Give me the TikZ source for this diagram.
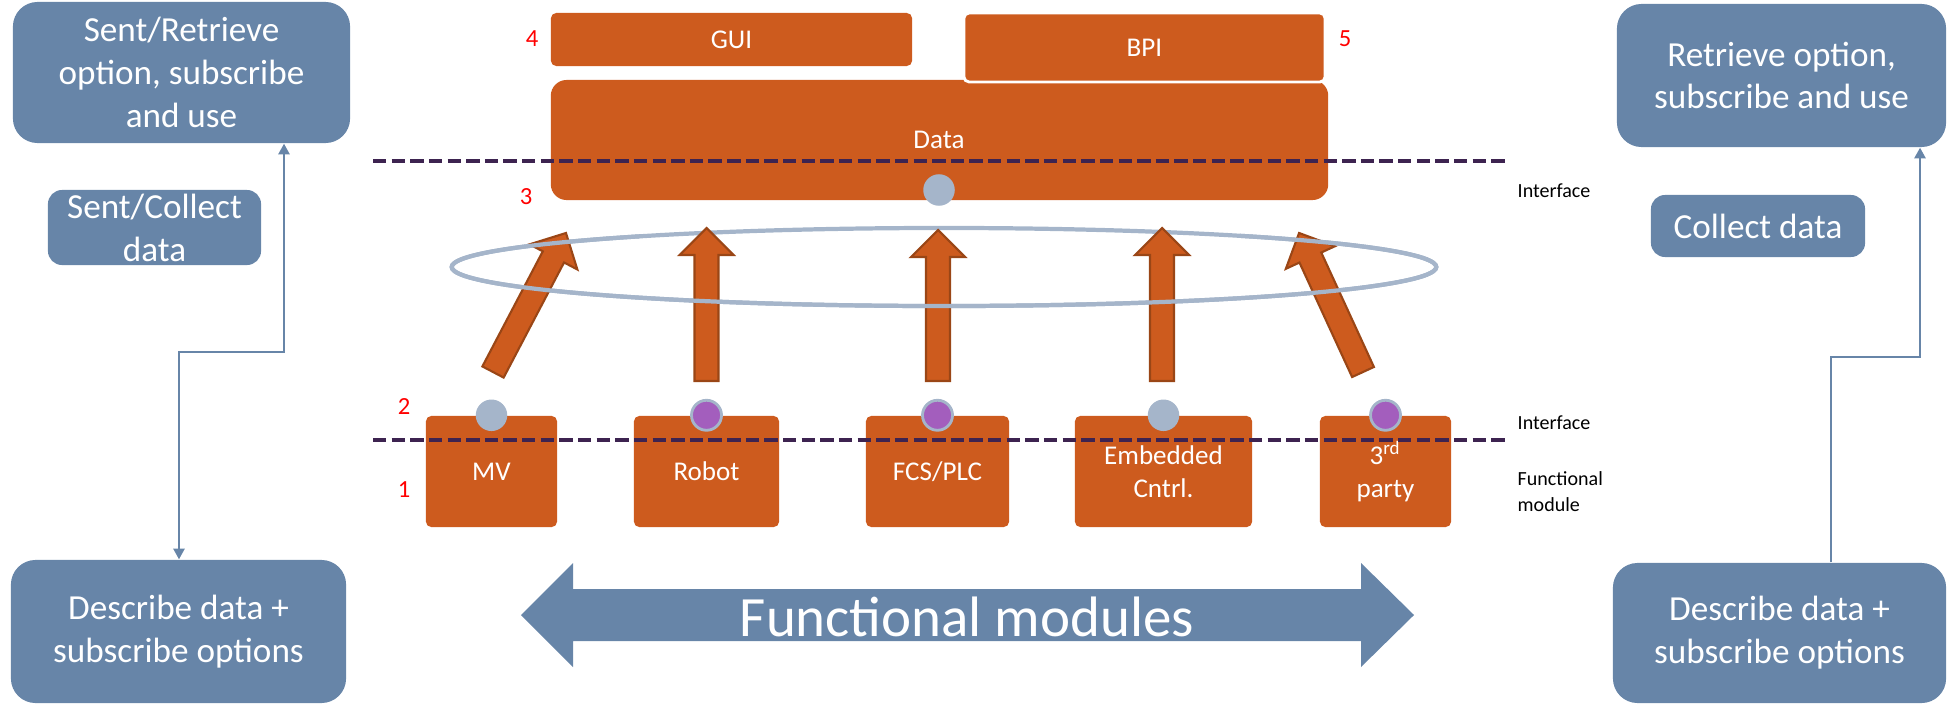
\documentclass[tikz,border=0pt]{standalone}
\usepackage{fontspec}
\setmainfont{Carlito}
\usetikzlibrary{arrows.meta,calc}
\definecolor{boxblue}{HTML}{6785A8}
\definecolor{orng}{HTML}{CD5B1E}
\definecolor{orngdark}{HTML}{9A4616}
\definecolor{ringblue}{HTML}{A5B5CA}
\definecolor{dotpurple}{HTML}{A35EBD}
\definecolor{dashpurple}{HTML}{3D2350}
\newcommand\fatarr[4]{%
  \begin{scope}[shift={(#1,#2)},rotate=#3]
    \draw[fat] (0,-12) -- (#4-27,-12) -- (#4-27,-27) -- (#4,0) -- (#4-27,27) -- (#4-27,12) -- (0,12) -- cycle;
  \end{scope}}
\begin{document}
\begin{tikzpicture}[x=0.01cm,y=-0.01cm,
  bluebox/.style={fill=boxblue, rounded corners=7pt, text=white, align=center,
    font=\fontsize{10}{12.2}\selectfont, inner sep=0pt},
  orbox/.style={fill=orng, rounded corners=1.5pt, text=white, align=center,
    font=\fontsize{7.7}{9.4}\selectfont, inner sep=0pt},
  redno/.style={text=red, font=\fontsize{7}{8}\selectfont, inner sep=0pt},
  lbl/.style={font=\fontsize{5.7}{7.4}\selectfont, anchor=west, align=left, inner sep=0pt},
  dashline/.style={dashpurple, line width=1.15pt, dash pattern=on 3.8pt off 1.5pt},
  ring/.style={ringblue, line width=1.2pt},
  fat/.style={fill=orng, draw=orngdark, line width=0.6pt, line join=miter},
  dotg/.style={circle, fill=ringblue, minimum size=0.315cm, inner sep=0pt},
  dotp/.style={circle, fill=dotpurple, draw=ringblue, line width=0.8pt, minimum size=0.3cm, inner sep=0pt},
  conn/.style={boxblue, line width=0.45pt},
  tip/.style={-{Triangle[length=3pt,width=3.2pt]}},
  bigtext/.style={text=white, font=\fontsize{16.2}{19}\selectfont, inner sep=0pt}
]
\useasboundingbox (0,0) rectangle (1949,706);

% top blocks
\node[orbox, rounded corners=4.5pt, minimum width=7.77cm, minimum height=1.20cm] (data) at (939.5,140) {};
\node[text=white, font=\fontsize{7.7}{9.4}\selectfont, inner sep=0pt] (datatxt) at (939,140) {Data};
\node[orbox, draw=white, line width=0.8pt, minimum width=3.61cm, minimum height=0.69cm] (bpi) at (1144.5,47.5) {BPI};
\node[orbox, minimum width=3.61cm, minimum height=0.53cm] (gui) at (731.5,39.5) {GUI};
\node[dotg] (ddot) at (939,190) {};

\node[redno] (n4) at (532,39) {4};
\node[redno] (n5) at (1345,39) {5};
\node[redno] (n3) at (526,197) {3};
\node[redno] (n2) at (404,407) {2};
\node[redno] (n1) at (404,490) {1};

% dashed interface lines
\coordinate (d1a) at (373,161);
\coordinate (d1b) at (1508,161);
\draw[dashline] (d1a) -- (d1b);

% ring and arrows
\coordinate (rc) at (944,267);
\draw[ring] (rc) ellipse [x radius=4.92cm, y radius=0.39cm];
\fatarr{493}{372}{62.3}{157}
\fatarr{1363}{372}{114.7}{153}
\fatarr{706.5}{381}{90}{153}
\fatarr{938}{381}{90}{151}
\fatarr{1162}{381}{90}{153}
\begin{scope}
  \clip (400,190) -- (640,190) -- (640,255) -- (1240,255) -- (1240,190) -- (1500,190) -- (1500,330) -- (400,330) -- cycle;
  \draw[ring] (rc) ellipse [x radius=4.92cm, y radius=0.39cm];
\end{scope}

% functional modules
\node[orbox, minimum width=1.31cm, minimum height=1.11cm] (mv) at (491.5,471.5) {MV};
\node[orbox, minimum width=1.45cm, minimum height=1.11cm] (robot) at (706.5,471.5) {Robot};
\node[orbox, minimum width=1.43cm, minimum height=1.11cm] (fcs) at (937.5,471.5) {FCS/PLC};
\node[orbox, minimum width=1.77cm, minimum height=1.11cm] (emb) at (1163.5,471.5) {Embedded\\Cntrl.};
\node[orbox, minimum width=1.31cm, minimum height=1.11cm] (third) at (1385.5,471.5) {3\textsuperscript{rd}\\party};

\node[dotg] (dmv) at (mv.north) {};
\node[dotp] (drobot) at (robot.north) {};
\node[dotp] (dfcs) at (fcs.north) {};
\node[dotg] (demb) at (emb.north) {};
\node[dotp] (dthird) at (third.north) {};

\coordinate (d2a) at (373,440);
\coordinate (d2b) at (1509,440);
\draw[dashline] (d2a) -- (d2b);

\node[lbl] (if1) at (1517,191) {Interface};
\node[lbl] (if2) at (1517,423) {Interface};
\node[lbl] (fm) at (1517,492) {Functional\\module};

% side boxes
\node[bluebox, minimum width=3.37cm, minimum height=1.41cm] (tl) at (181.5,72.5) {Sent/Retrieve\\option, subscribe\\and use};
\node[bluebox, rounded corners=4pt, minimum width=2.13cm, minimum height=0.75cm] (cl) at (154.5,227.5) {Sent/Collect\\data};
\node[bluebox, minimum width=3.35cm, minimum height=1.43cm] (bl) at (178.5,631.5) {Describe data +\\subscribe options};

\node[bluebox, minimum width=3.29cm, minimum height=1.43cm] (tr) at (1781.5,75.5) {Retrieve option,\\subscribe and use};
\node[bluebox, rounded corners=4pt, minimum width=2.14cm, minimum height=0.62cm] (cr) at (1758,226) {Collect data};
\node[bluebox, minimum width=3.33cm, minimum height=1.40cm] (br) at (1779.5,633) {Describe data +\\subscribe options};

% connectors
\coordinate (lc1) at (284,352);
\coordinate (lc2) at (179,352);
\draw[conn, {Triangle[length=3pt,width=3.2pt]}-{Triangle[length=3pt,width=3.2pt]}]
  (tl.south -| lc1) -- (lc1) -- (lc2) -- (lc2 |- bl.north);
\coordinate (rc0) at (1831,357);
\coordinate (rc1) at (1920,357);
\draw[conn, tip] (br.north -| rc0) -- (rc0) -- (rc1) -- (rc1 |- tr.south);

% big double arrow
\fill[boxblue] (521,615) -- (573,563) -- (573,589) -- (1361,589) -- (1361,563) -- (1414,615)
  -- (1361,667) -- (1361,641) -- (573,641) -- (573,667) -- cycle;
\node[bigtext] (fmods) at (967,617) {Functional modules};
\end{tikzpicture}
\end{document}
